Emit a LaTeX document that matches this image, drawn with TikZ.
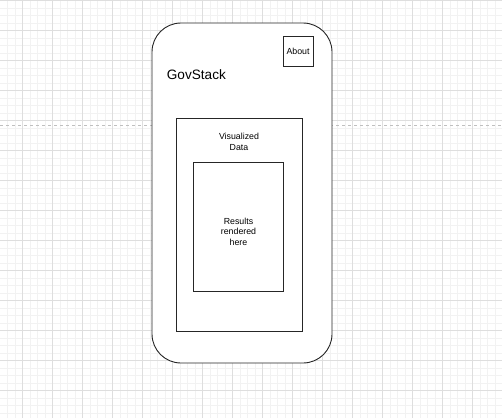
\documentclass[tikz,border=0pt]{standalone}
\usepackage{fontspec}
\setmainfont{Liberation Sans}
\usetikzlibrary{positioning}

\tikzset{
  minorgrid/.style={line width=0.6pt, black!5},
  majorgrid/.style={line width=0.6pt, black!13},
  pagebreak/.style={line width=0.8pt, black!25, dash pattern=on 3pt off 3pt},
  frame/.style={draw=black!85, line width=0.9pt, fill=white, inner sep=0pt},
  smalltext/.style={align=center, inner sep=0pt, font=\fontsize{8.8}{10.4}\selectfont}
}

\begin{document}
\begin{tikzpicture}[x=1pt,y=-1pt]
    \useasboundingbox (0,0) rectangle (502,418);
    \clip (0,0) rectangle (502,418);

    % Background grid
    \foreach \i in {0,...,68} \draw[minorgrid] (-7.7+7.5*\i,0) -- (-7.7+7.5*\i,418);
    \foreach \i in {0,...,56} \draw[minorgrid] (0,0.5+7.5*\i) -- (502,0.5+7.5*\i);
    \foreach \i in {-1,...,16} \draw[majorgrid] (22.3+30*\i,0) -- (22.3+30*\i,418);
    \foreach \i in {0,...,14} \draw[majorgrid] (0,0.5+30*\i) -- (502,0.5+30*\i);

    % Page break
    \coordinate (breakL) at (0,125);
    \coordinate (breakR) at (502,125);
    \draw[pagebreak] (breakL) -- (breakR);

    % Phone outline
    \node[frame, rounded corners=29pt, minimum width=180pt, minimum height=340pt] (phone) at (242,193) {};
    \node[frame, minimum size=30pt, font=\fontsize{8.8}{10.4}\selectfont] (about) at (298,51) {About};
    \node[anchor=west, inner sep=0pt, font=\fontsize{13.6}{16}\selectfont] (title) at (166.7,75) {GovStack};

    % Visualized data
    \node[frame, minimum width=126.3pt, minimum height=212.7pt] (viz) at (239.2,224.6) {};
    \node[smalltext] (vizlabel) at (239,141.7) {Visualized\\Data};

    % Results
    \node[frame, minimum width=90pt, minimum height=128.7pt] (results) at (238.3,226.7) {};
    \node[smalltext] (reslabel) at (238.5,231.5) {Results\\rendered\\here};
\end{tikzpicture}
\end{document}
